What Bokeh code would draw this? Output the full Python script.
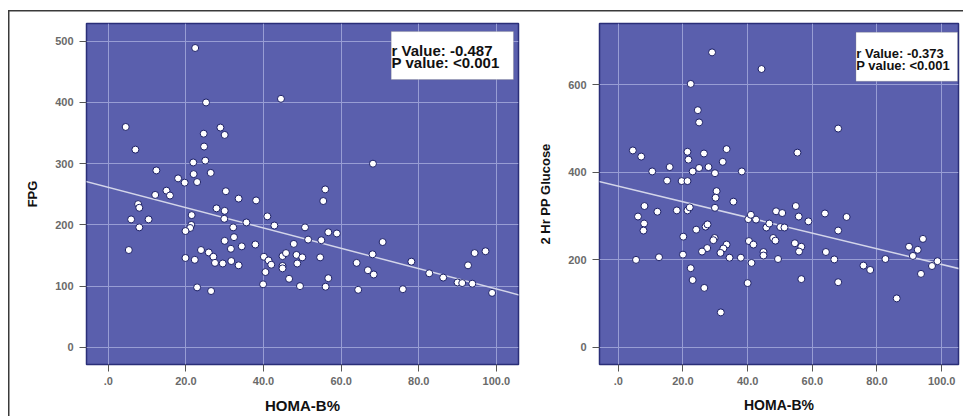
from bokeh.plotting import figure
from bokeh.layouts import row
from bokeh.models import FixedTicker, Range1d, BoxAnnotation, Label, ColumnDataSource
from bokeh.embed import file_html
from bokeh.resources import INLINE

# ---------------- data ----------------
x_ticks = [0, 20, 40, 60, 80, 100]
x_tick_labels = [".0", "20.0", "40.0", "60.0", "80.0", "100.0"]
fpg_ticks = [0, 100, 200, 300, 400, 500]
pp_ticks = [0, 200, 400, 600]

fpg_homa = [22.4, 25.2, 44.5, 4.5, 28.9, 24.6, 30.0, 24.7, 7.0, 21.9, 25.0, 12.4, 22.0, 26.4,
            18.0, 19.7, 22.9, 15.0, 12.1, 15.9, 30.3, 33.6, 38.1, 7.7, 8.0, 27.9, 30.0,
            5.9, 10.4, 8.0, 21.5, 21.4, 21.1, 19.9, 29.9, 35.6, 32.2, 41.0, 42.8, 50.7,
            32.4, 30.0, 31.6, 34.4, 37.9, 47.8, 5.3, 23.9, 25.9, 27.1, 19.9, 22.3, 27.5,
            29.5, 31.7, 33.6, 40.1, 41.3, 42.0, 44.9, 45.8, 44.9, 44.9, 48.5, 50.0, 48.7,
            40.5, 46.6, 39.9, 49.4, 22.9, 26.5,
            68.2, 55.9, 55.4, 56.7, 58.9, 51.5, 54.9, 70.7, 54.6, 68.1, 64.0, 66.9, 68.4,
            78.1, 56.7, 56.0, 64.4, 75.9, 82.7, 86.3, 90.0, 91.2, 93.8, 92.7, 94.4, 97.2, 98.9]
fpg_value = [489, 400, 406, 360, 359, 349, 347, 328, 323, 302, 305, 289, 283, 285,
             276, 269, 270, 256, 249, 248, 255, 243, 240, 234, 228, 227, 223,
             209, 209, 196, 216, 200, 195, 190, 210, 204, 196, 214, 199, 196,
             180, 174, 161, 165, 168, 169, 159, 159, 155, 148, 146, 143, 138,
             137, 141, 134, 148, 142, 135, 149, 154, 133, 129, 151, 147, 137,
             123, 112, 103, 100, 98, 92,
             300, 258, 239, 188, 186, 176, 175, 172, 147, 152, 138, 126, 119,
             140, 113, 99, 94, 95, 121, 114, 106, 105, 104, 134, 154, 157, 89]

pp_homa = [29.0, 44.3, 22.4, 24.6, 25.0, 68.0, 4.5, 7.1, 21.4, 21.7, 26.5, 33.5, 32.3, 55.4,
           15.9, 10.5, 23.0, 25.0, 27.9, 29.9, 38.2, 15.1, 19.6, 21.4, 30.4, 30.1, 35.6,
           8.1, 54.9, 29.9, 6.1, 12.1, 18.1, 21.4, 22.1, 8.0, 7.8, 24.1, 27.0, 27.6,
           20.1, 29.8, 29.4, 27.5, 25.9, 33.5, 32.5, 31.6, 34.4, 37.9, 5.5, 12.6, 20.0,
           22.4, 23.0, 26.6, 31.7, 40.0, 40.2, 41.0, 42.6, 40.4, 41.8, 41.2, 44.9, 44.9,
           45.8, 46.7, 47.9, 48.6, 48.8, 50.7, 50.1, 49.4, 55.8, 58.8, 63.9, 70.6, 51.4,
           68.0, 54.6, 56.6, 55.9, 64.2, 66.8, 56.6, 68.0, 75.8, 77.9, 82.6, 86.1, 89.9,
           92.6, 91.1, 94.2, 93.6, 97.0, 98.7]
pp_value = [674, 636, 602, 542, 514, 500, 450, 436, 447, 429, 443, 453, 424, 445,
            412, 402, 402, 410, 412, 398, 402, 381, 380, 380, 357, 342, 333,
            323, 323, 319, 299, 310, 313, 313, 320, 283, 267, 269, 276, 281,
            253, 250, 245, 227, 219, 235, 226, 216, 205, 205, 200, 206, 212,
            181, 154, 136, 80, 147, 293, 303, 292, 243, 235, 193, 218, 210,
            274, 283, 250, 244, 311, 307, 275, 202, 299, 288, 306, 298, 274,
            267, 238, 230, 219, 218, 201, 156, 149, 187, 177, 202, 112, 230,
            223, 209, 248, 168, 186, 197]

# fitted regression lines (end points)
fpg_fit_x = [-6, 106]
fpg_fit_y = [271.4, 85.4]
pp_fit_x = [-6, 106]
pp_fit_y = [379.3, 178.9]

fpg_stats = ["r Value: -0.487", "P value: <0.001"]
pp_stats = ["r Value: -0.373", "P value: <0.001"]

# ---------------- style ----------------
BG = "#5a5fad"
GRID = "#989dd4"
FONT = "Liberation Sans"


def make_panel(width, mbl, mbr, xr, yr, yticks, ylabel, xtitle_size, hx, hy, fx, fy):
    p = figure(width=width, height=416, x_range=Range1d(*xr), y_range=Range1d(*yr),
               output_backend="svg", toolbar_location=None,
               min_border_left=mbl, min_border_right=mbr, min_border_top=23, min_border_bottom=52)
    p.background_fill_color = BG
    p.border_fill_color = "white"
    p.border_fill_alpha = 0.0
    p.outline_line_color = "#2a2e78"
    p.outline_line_width = 1.5

    p.xaxis.ticker = FixedTicker(ticks=x_ticks)
    p.xaxis.major_label_overrides = {t: l for t, l in zip(x_ticks, x_tick_labels)}
    p.yaxis.ticker = FixedTicker(ticks=yticks)
    p.xaxis.axis_label = "HOMA-B%"
    p.yaxis.axis_label = ylabel
    for ax in (p.xaxis[0], p.yaxis[0]):
        ax.axis_line_color = None
        ax.major_tick_line_color = "#555555"
        ax.major_tick_out = 7
        ax.major_tick_in = 0
        ax.minor_tick_line_color = None
        ax.major_label_text_font = FONT
        ax.major_label_text_font_size = "11px"
        ax.major_label_text_font_style = "bold"
        ax.major_label_text_color = "#6a6a6a"
        ax.axis_label_text_font = FONT
        ax.axis_label_text_font_size = "13px"
        ax.axis_label_text_font_style = "bold"
        ax.axis_label_text_color = "#111111"
    p.xaxis.axis_label_text_font_size = xtitle_size
    p.xaxis.major_label_standoff = 5
    p.xaxis.axis_label_standoff = 9
    p.yaxis.major_label_standoff = 6
    p.yaxis.axis_label_standoff = 12

    p.xgrid.grid_line_color = GRID
    p.ygrid.grid_line_color = GRID
    p.xgrid.grid_line_width = 1
    p.ygrid.grid_line_width = 1

    p.line(fx, fy, line_color="#d4d6ea", line_width=1.5)
    src = ColumnDataSource(dict(x=hx, y=hy))
    p.scatter("x", "y", source=src, size=7, fill_color="white",
              line_color="#1c2066", line_width=1)
    return p


left = make_panel(535, 86, 17, (-5.6, 105.7), (-28, 529), fpg_ticks, "FPG", "15px",
                  fpg_homa, fpg_value, fpg_fit_x, fpg_fit_y)
right = make_panel(428, 62, 5, (-5.8, 105.2), (-39, 740), pp_ticks, "2 Hr PP Glucose", "14px",
                   pp_homa, pp_value, pp_fit_x, pp_fit_y)

# stats boxes
left.add_layout(BoxAnnotation(left=72.9, right=104.4, bottom=437.4, top=515.8,
                              fill_color="white", fill_alpha=1.0,
                              line_color="#7a7a7a", line_width=1))
left.add_layout(Label(x=73.0, y=484.8, text=fpg_stats[0], text_font=FONT,
                      text_font_size="15px", text_font_style="bold",
                      text_color="#111111", text_baseline="middle"))
left.add_layout(Label(x=73.0, y=465.0, text=fpg_stats[1], text_font=FONT,
                      text_font_size="15px", text_font_style="bold",
                      text_color="#111111", text_baseline="middle"))

right.add_layout(BoxAnnotation(left=73.5, right=104.9, bottom=608, top=720,
                               fill_color="white", fill_alpha=1.0,
                               line_color="#7a7a7a", line_width=1))
right.add_layout(Label(x=73.6, y=672, text=pp_stats[0], text_font=FONT,
                       text_font_size="13px", text_font_style="bold",
                       text_color="#111111", text_baseline="middle"))
right.add_layout(Label(x=73.6, y=644.6, text=pp_stats[1], text_font=FONT,
                       text_font_size="13px", text_font_style="bold",
                       text_color="#111111", text_baseline="middle"))

frame_bg = ("linear-gradient(#3a3a3a, #3a3a3a) 9px 10px / 100% 1.5px no-repeat, "
            "linear-gradient(#3a3a3a, #3a3a3a) 8px 10px / 1.5px 100% no-repeat, white")
layout = row(left, right, styles={"background": frame_bg})

open("out.html", "w").write(file_html(layout, INLINE))
